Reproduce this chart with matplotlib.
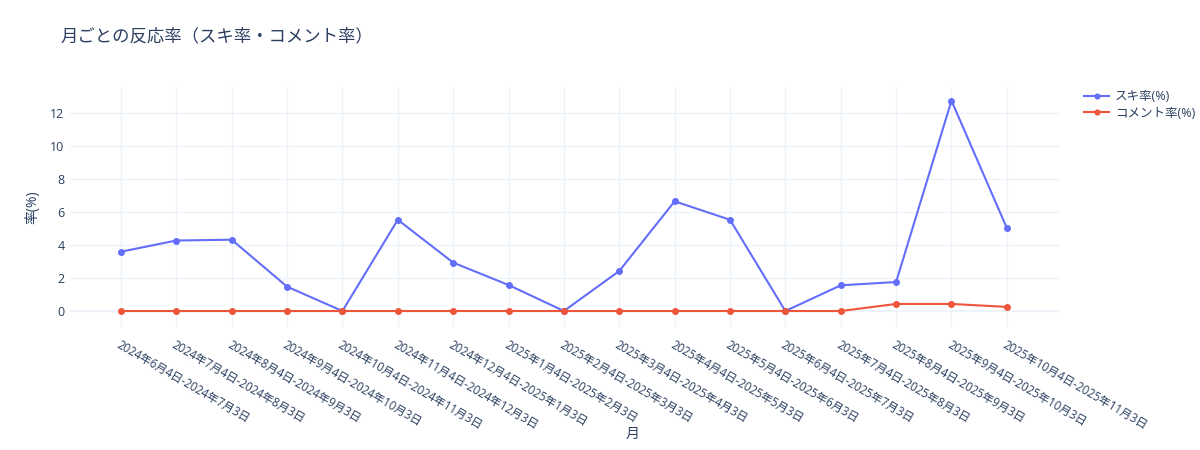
import matplotlib.pyplot as plt

plt.rcParams['font.family'] = ['Open Sans', 'Noto Sans CJK JP', 'DejaVu Sans']

# data
months = [
    "2024年6月4日-2024年7月3日",
    "2024年7月4日-2024年8月3日",
    "2024年8月4日-2024年9月3日",
    "2024年9月4日-2024年10月3日",
    "2024年10月4日-2024年11月3日",
    "2024年11月4日-2024年12月3日",
    "2024年12月4日-2025年1月3日",
    "2025年1月4日-2025年2月3日",
    "2025年2月4日-2025年3月3日",
    "2025年3月4日-2025年4月3日",
    "2025年4月4日-2025年5月3日",
    "2025年5月4日-2025年6月3日",
    "2025年6月4日-2025年7月3日",
    "2025年7月4日-2025年8月3日",
    "2025年8月4日-2025年9月3日",
    "2025年9月4日-2025年10月3日",
    "2025年10月4日-2025年11月3日",
]
like_rate = [3.6, 4.28, 4.33, 1.48, 0, 5.54, 2.94, 1.58, 0, 2.43, 6.66, 5.54, 0, 1.56, 1.76, 12.77, 5.04]
comment_rate = [0, 0, 0, 0, 0, 0, 0, 0, 0, 0, 0, 0, 0, 0, 0.43, 0.43, 0.25]
y_ticks = [0, 2, 4, 6, 8, 10, 12]

text_color = '#2a3f5f'
grid_color = '#eef2f9'

fig = plt.figure(figsize=(12, 4.5), dpi=100)
ax = fig.add_axes([70 / 1200, 1 - 327 / 450, 990 / 1200, 240 / 450])

x = list(range(len(months)))
ax.plot(x, like_rate, color='#636efa', lw=1.5, marker='o', ms=4, label='スキ率(%)', zorder=3)
ax.plot(x, comment_rate, color='#EF553B', lw=1.5, marker='o', ms=4, label='コメント率(%)', zorder=3)

ax.set_xlim(-0.92, 16.96)
ax.set_ylim(-0.97, 13.6)
ax.set_xticks(x)
ax.set_xticklabels(months, rotation=-30, ha='left', va='top', rotation_mode='anchor')
ax.set_yticks(y_ticks)
ax.tick_params(axis='both', length=0, labelcolor=text_color)
ax.tick_params(axis='x', pad=8, labelsize=8.3)
ax.tick_params(axis='y', pad=4, labelsize=9)

ax.grid(True, color=grid_color, lw=1, zorder=0)
ax.axhline(0, color=grid_color, lw=1.5, zorder=1)
for s in ax.spines.values():
    s.set_visible(False)

ax.set_xlabel('月', color=text_color, fontsize=10)
ax.xaxis.set_label_coords(563 / 990, -(427 - 327) / 240)
ax.set_ylabel('率(%)', color=text_color, fontsize=10)
ax.yaxis.set_label_coords(-(70 - 40) / 990, 0.5)

fig.text(60 / 1200, 1 - 37 / 450, '月ごとの反応率（スキ率・コメント率）', fontsize=12.5,
         color=text_color, va='center', ha='left')

leg = ax.legend(loc='upper left', bbox_to_anchor=(1084 / 1200, 1 - 90 / 450),
                bbox_transform=fig.transFigure, frameon=False, fontsize=9,
                handlelength=2.0, handletextpad=0.5, labelspacing=0.3,
                borderpad=0, borderaxespad=0, markerscale=0.85)
for t in leg.get_texts():
    t.set_color(text_color)

fig.savefig('out.png', dpi=100)
